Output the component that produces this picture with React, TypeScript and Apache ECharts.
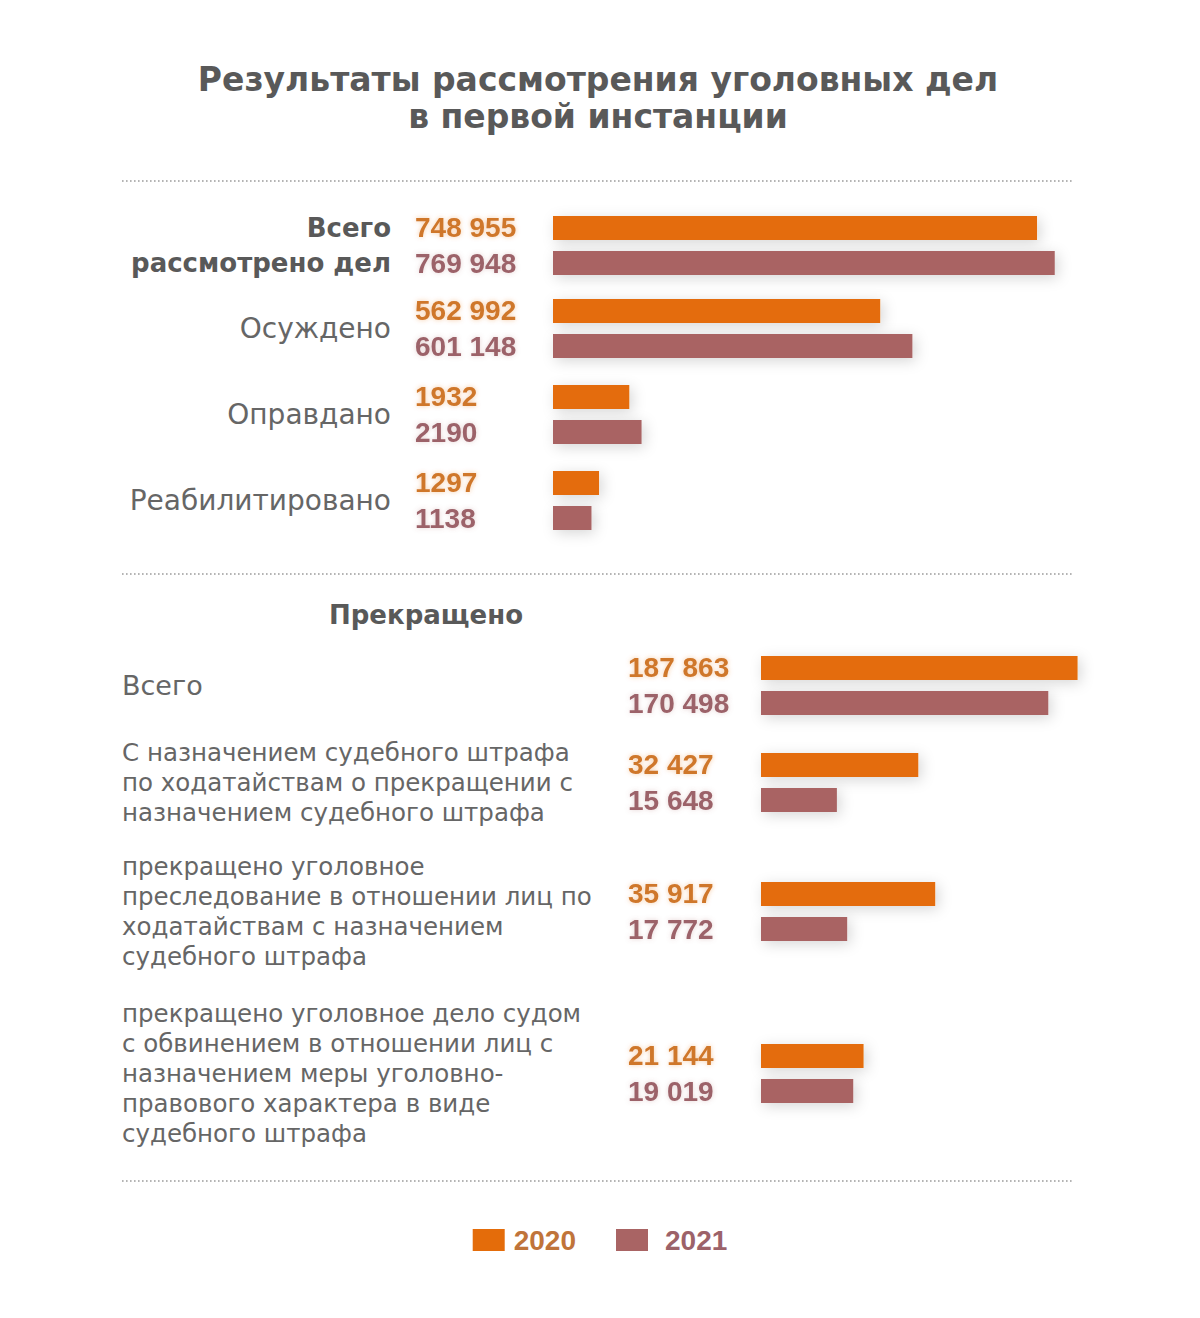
import React, { useEffect, useRef } from 'react';
import * as echarts from 'echarts';

// ---- data ----
const seriesNames = ['2020', '2021'];
const topCategories = ['Всего\nрассмотрено дел', 'Осуждено', 'Оправдано', 'Реабилитировано'];
const top2020 = [748955, 562992, 1932, 1297];
const top2021 = [769948, 601148, 2190, 1138];
const bottomCategories = [
  'Всего',
  'С назначением судебного штрафа\nпо ходатайствам о прекращении с\nназначением судебного штрафа',
  'прекращено уголовное\nпреследование в отношении лиц по\nходатайствам с назначением\nсудебного штрафа',
  'прекращено уголовное дело судом\nс обвинением в отношении лиц с\nназначением меры уголовно-\nправового характера в виде\nсудебного штрафа',
];
const bottom2020 = [187863, 32427, 35917, 21144];
const bottom2021 = [170498, 15648, 17772, 19019];
const titleLines = ['Результаты рассмотрения уголовных дел', 'в первой инстанции'];
const sectionTitle = 'Прекращено';

// ---- styles / layout ----
const ORANGE = '#E46C0A';
const MAUVE = '#A96464';
const ORANGE_TXT = '#CF772B';
const MAUVE_TXT = '#9C6269';
const GRAY = '#595959';
const GRAY_L = '#666666';

// per-row layout (positions only)
const topRows = [
  { center: 245.5, width: 506, min: 175000, max: 775000 },
  { center: 328.5, width: 506, min: 175000, max: 775000 },
  { center: 414.5, width: 100, min: 330, max: 2430 },
  { center: 500.5, width: 100, min: 330, max: 2430 },
];
const bottomRows = [
  { center: 685.5, width: 337, min: 0, max: 200000, lift: 18 },
  { center: 782.5, width: 194, min: 0, max: 40000, lift: 5 },
  { center: 911.5, width: 194, min: 0, max: 40000, lift: 8 },
  { center: 1073.5, width: 194, min: 0, max: 40000, lift: 5 },
];

const fmt = (v: number) =>
  v >= 10000 ? String(v).replace(/\B(?=(\d{3})+(?!\d))/g, ' ') : String(v);

function buildOption() {
  const grid: any[] = [];
  const xAxis: any[] = [];
  const yAxis: any[] = [];
  const series: any[] = [];

  const addRow = (
    idx: number,
    cat: string,
    v20: number,
    v21: number,
    row: any,
    left: number,
    labelOffset: number,
    catStyle: any,
    catMargin: number
  ) => {
    grid.push({
      left,
      top: row.center - 35,
      width: row.width,
      height: 70,
      containLabel: false,
      outerBoundsMode: 'none',
    });
    xAxis.push({ gridIndex: idx, type: 'value', min: row.min, max: row.max, show: false });
    yAxis.push({
      gridIndex: idx,
      type: 'category',
      inverse: true,
      data: [{ value: cat, textStyle: catStyle }],
      axisLine: { show: false },
      axisTick: { show: false },
      splitLine: { show: false },
      axisLabel: { margin: catMargin, ...catStyle },
    });
    [v20, v21].forEach((v, k) => {
      series.push({
        type: 'bar',
        name: seriesNames[k],
        xAxisIndex: idx,
        yAxisIndex: idx,
        data: [v],
        barWidth: 24,
        barGap: '46%',
        clip: true,
        itemStyle: {
          color: k === 0 ? ORANGE : MAUVE,
          shadowBlur: 14,
          shadowColor: 'rgba(0,0,0,0.16)',
          shadowOffsetX: 3,
          shadowOffsetY: 3,
        },
        label: {
          show: true,
          position: 'insideLeft',
          distance: 0,
          offset: [labelOffset, 0],
          formatter: () => fmt(v),
          fontFamily: 'Liberation Sans',
          fontWeight: 'bold',
          fontSize: 28,
          color: k === 0 ? ORANGE_TXT : MAUVE_TXT,
          textShadowColor: k === 0 ? 'rgba(228,108,10,0.35)' : 'rgba(169,100,100,0.3)',
          textShadowBlur: 5,
        },
      });
    });
  };

  topCategories.forEach((c, i) => {
    const style =
      i === 0
        ? { fontFamily: 'DejaVu Sans', fontWeight: 'bold', fontSize: 26, color: GRAY, lineHeight: 35, align: 'right' }
        : { fontFamily: 'DejaVu Sans', fontWeight: 'normal', fontSize: 28, color: GRAY_L, lineHeight: 35, align: 'right' };
    addRow(i, c, top2020[i], top2021[i], topRows[i], 553, -138, style, 162);
  });
  bottomCategories.forEach((c, i) => {
    const style = {
      fontFamily: 'DejaVu Sans',
      fontWeight: 'normal',
      fontSize: i === 0 ? 27 : 24.5,
      color: GRAY_L,
      lineHeight: 30,
      align: 'left',
      padding: [0, 0, bottomRows[i].lift, 0],
    };
    addRow(4 + i, c, bottom2020[i], bottom2021[i], bottomRows[i], 761, -133, style, 639);
  });

  const dotted = (y: number) => ({
    type: 'line',
    shape: { x1: 122, y1: y, x2: 1074, y2: y },
    style: { stroke: '#9c9c9c', lineWidth: 1.6, lineDash: [1.6, 2.4] },
    silent: true,
  });

  return {
    animation: false,
    backgroundColor: '#ffffff',
    grid,
    xAxis,
    yAxis,
    series,
    legend: {
      show: true,
      top: 1221,
      left: 'center',
      itemWidth: 32,
      itemHeight: 22,
      itemGap: 40,
      icon: 'rect',
      selectedMode: false,
      data: [
        { name: '2020', textStyle: { color: '#C0743A' } },
        { name: '2021', textStyle: { color: MAUVE_TXT, padding: [0, 0, 0, 12] } },
      ],
      textStyle: {
        fontFamily: 'Liberation Sans',
        fontWeight: 'bold',
        fontSize: 28,
        padding: [0, 0, 0, 4],
      },
    },
    graphic: [
      {
        type: 'text',
        x: 598,
        y: 79,
        style: { text: titleLines[0], fontFamily: 'DejaVu Sans', fontWeight: 'bold', fontSize: 33, fill: GRAY, align: 'center', verticalAlign: 'middle' },
      },
      {
        type: 'text',
        x: 598,
        y: 116,
        style: { text: titleLines[1], fontFamily: 'DejaVu Sans', fontWeight: 'bold', fontSize: 33, fill: GRAY, align: 'center', verticalAlign: 'middle' },
      },
      {
        type: 'text',
        x: 426,
        y: 615,
        style: { text: sectionTitle, fontFamily: 'DejaVu Sans', fontWeight: 'bold', fontSize: 26, fill: GRAY, align: 'center', verticalAlign: 'middle' },
      },
      dotted(181),
      dotted(574),
      dotted(1181),
    ],
  };
}

export default function App() {
  const ref = useRef<HTMLDivElement>(null);
  useEffect(() => {
    document.body.style.margin = '0';
    if (!ref.current) return;
    const chart = echarts.init(ref.current, undefined, { renderer: 'svg' });
    chart.setOption(buildOption() as any);
    return () => chart.dispose();
  }, []);
  return <div ref={ref} style={{ width: 1200, height: 1318, position: 'absolute', left: 0, top: 0, background: '#fff' }} />;
}
